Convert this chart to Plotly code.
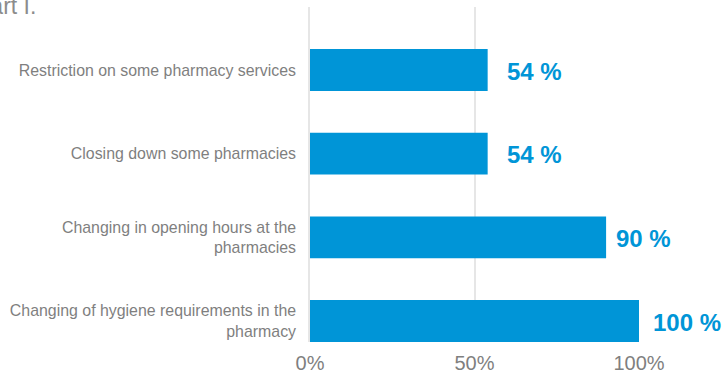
import plotly.graph_objects as go

categories = [
    "Changing of hygiene requirements in the<br>pharmacy",
    "Changing in opening hours at the<br>pharmacies",
    "Closing down some pharmacies",
    "Restriction on some pharmacy services",
]
values = [100, 90, 54, 54]
value_labels = ["100 %", "90 %", "54 %", "54 %"]
x_tick_vals = [0, 50, 100]
x_tick_text = ["0%", "50%", "100%"]
title_text = "Part I."

# label gap (pixels) after each bar end, styling only
label_gaps = [14, 10, 19, 19]

BLUE = "#0095D7"
GRAY = "#7F7F7F"
GRID = "#E6E6E6"

fig = go.Figure()
fig.add_trace(go.Bar(
    y=categories, x=values, orientation="h",
    marker=dict(color=BLUE, line=dict(width=0)),
    width=0.5, hoverinfo="skip",
))

for c, v, t, g in zip(categories, values, value_labels, label_gaps):
    fig.add_annotation(
        x=v, y=c, xref="x", yref="y", text=t, showarrow=False,
        xanchor="left", yanchor="middle", xshift=g - 2, yshift=-1,
        font=dict(family="Liberation Sans, Arial, sans-serif", size=24, color=BLUE, weight="bold"),
    )

fig.add_annotation(
    xref="paper", yref="paper", x=-1.025, y=1.048, xanchor="left", yanchor="top",
    text=title_text, showarrow=False,
    font=dict(family="Liberation Sans, Arial, sans-serif", size=23, color="#8C8C8C"),
)

fig.update_layout(
    width=722, height=380,
    margin=dict(l=310, r=83, t=7, b=38, pad=0),
    paper_bgcolor="white", plot_bgcolor="white",
    showlegend=False,
    font=dict(family="Liberation Sans, Arial, sans-serif", color=GRAY),
    xaxis=dict(
        range=[0, 100], tickvals=x_tick_vals, ticktext=x_tick_text,
        showgrid=True, gridcolor=GRID, gridwidth=1.5,
        zeroline=False, showline=False, ticks="",
        tickfont=dict(size=20, color=GRAY),
        ticklabelstandoff=7,
    ),
    yaxis=dict(
        type="category", categoryorder="array", categoryarray=categories,
        range=[-0.251, 3.753],
        showgrid=False, zeroline=False, showline=True, linecolor=GRID, linewidth=1.5,
        ticks="", tickfont=dict(size=15.9, color=GRAY),
        ticklabelstandoff=9,
    ),
)

fig.write_html("out.html")
